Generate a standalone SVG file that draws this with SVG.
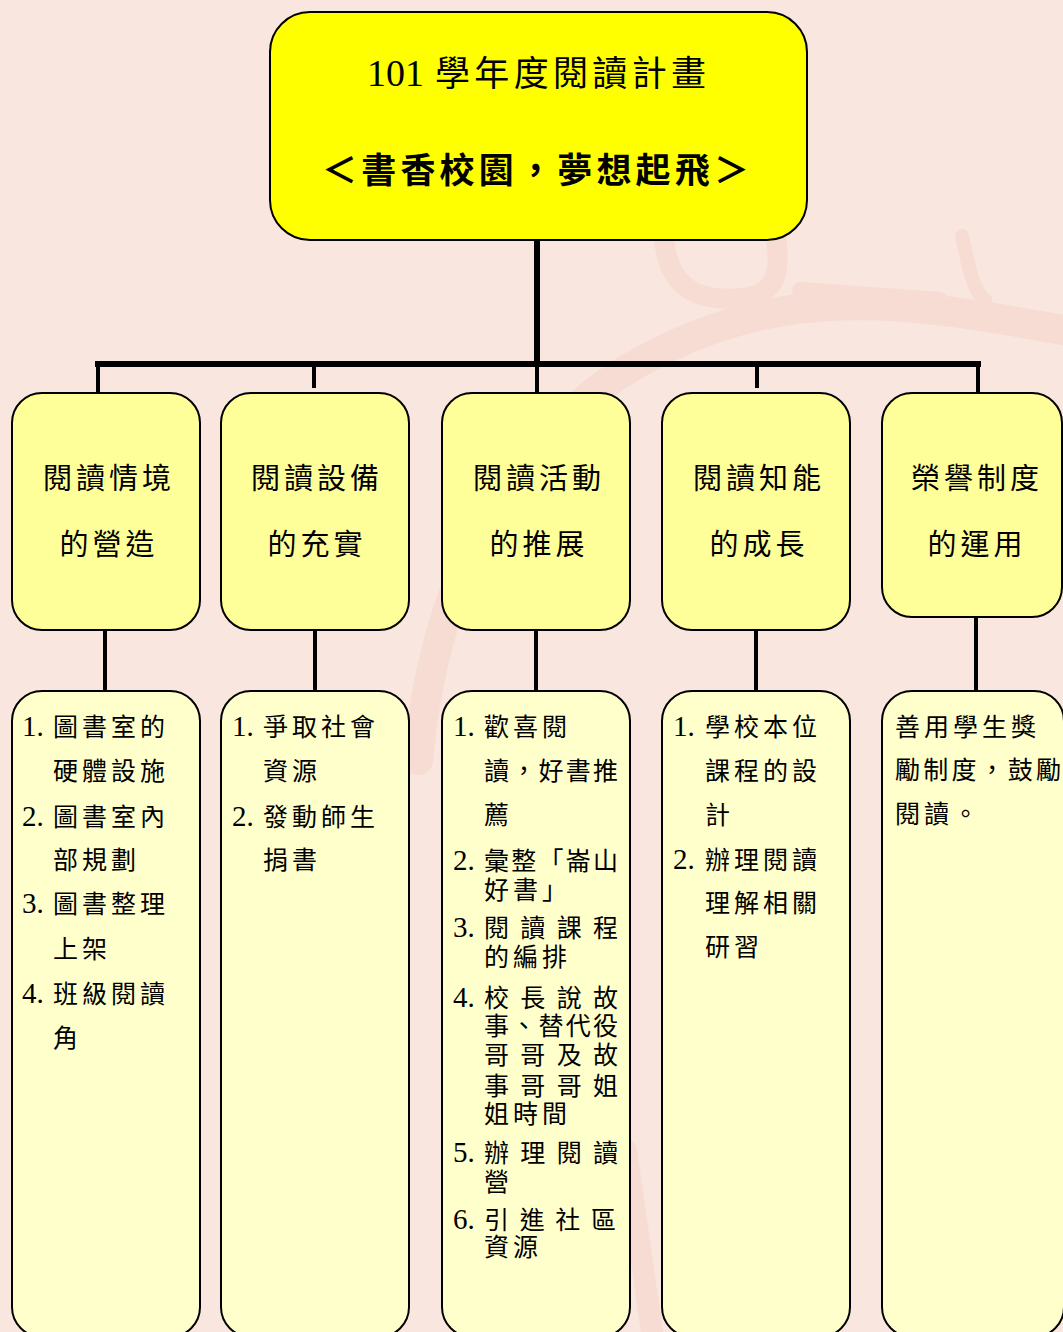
<svg xmlns="http://www.w3.org/2000/svg" width="1063" height="1332" viewBox="0 0 1063 1332">
<style>
.bg{fill:#F9E6DF}
.wm{fill:none;stroke:#F6DCD2;stroke-linecap:round}
.top{fill:#FFFF00;stroke:#000;stroke-width:2}
.mid{fill:#FFFF99;stroke:#000;stroke-width:2}
.low{fill:#FFFFCC;stroke:#000;stroke-width:2}
.ln{stroke:#000;fill:none}
text{font-family:"Noto Sans CJK TC","Noto Sans CJK SC",sans-serif;fill:#000}
.ttl{font-size:35px}
.mt{font-size:29px;letter-spacing:4px;text-anchor:middle}
.bt{font-size:25px;letter-spacing:4px}
.j{font-size:25px;letter-spacing:0}
.num{font-family:"Liberation Serif","Noto Sans CJK TC",serif;font-size:29px}
</style>
<rect class="bg" x="0" y="0" width="1063" height="1332"/>
<g id="watermark">
<path class="wm" stroke-width="30" d="M 418 760 C 432 600 500 440 640 362 S 900 300 1063 330"/>
<path class="wm" stroke-width="20" d="M 664 238 C 668 290 700 302 742 298 C 772 294 782 280 776 238"/>
<path class="wm" stroke-width="16" d="M 800 290 L 940 300"/>
<path class="wm" stroke-width="14" d="M 962 236 C 968 262 972 290 985 300"/>
<path class="wm" stroke-width="22" d="M 626 1150 L 652 1332"/>
</g>
<g id="connectors">
<line class="ln" stroke-width="6" x1="537" y1="240" x2="537" y2="367"/>
<line class="ln" stroke-width="6" x1="95" y1="364" x2="981" y2="364"/>
<line class="ln" stroke-width="4" x1="98" y1="364" x2="98" y2="393"/>
<line class="ln" stroke-width="4" x1="314" y1="364" x2="314" y2="388"/>
<line class="ln" stroke-width="4" x1="537" y1="364" x2="537" y2="393"/>
<line class="ln" stroke-width="4" x1="757" y1="364" x2="757" y2="388"/>
<line class="ln" stroke-width="4" x1="978" y1="364" x2="978" y2="393"/>
<line class="ln" stroke-width="4" x1="105" y1="630" x2="105" y2="691"/>
<line class="ln" stroke-width="4" x1="315" y1="630" x2="315" y2="691"/>
<line class="ln" stroke-width="4" x1="536" y1="630" x2="536" y2="691"/>
<line class="ln" stroke-width="4" x1="756" y1="630" x2="756" y2="691"/>
<line class="ln" stroke-width="4" x1="976" y1="617" x2="976" y2="691"/>
</g>
<g id="root">
<rect class="top" x="270" y="12" width="537" height="228" rx="40" ry="40"/>
<text class="ttl" x="367" y="86"><tspan class="num" style="font-size:38px">101</tspan></text>
<text class="ttl" x="435" y="86" textLength="271" lengthAdjust="spacing">學年度閱讀計畫</text>
<text class="ttl" x="322" y="183" font-weight="bold" textLength="427" lengthAdjust="spacing">＜書香校園，夢想起飛＞</text>
</g>
<g id="n1">
<rect class="mid" x="12" y="393" width="188" height="237" rx="30" ry="30"/>
<text class="mt" x="109" y="489">閱讀情境</text>
<text class="mt" x="109" y="555">的營造</text>
</g>
<g id="n2">
<rect class="mid" x="221" y="393" width="188" height="237" rx="30" ry="30"/>
<text class="mt" x="317" y="489">閱讀設備</text>
<text class="mt" x="317" y="555">的充實</text>
</g>
<g id="n3">
<rect class="mid" x="442" y="393" width="188" height="237" rx="30" ry="30"/>
<text class="mt" x="539" y="489">閱讀活動</text>
<text class="mt" x="539" y="555">的推展</text>
</g>
<g id="n4">
<rect class="mid" x="662" y="393" width="188" height="237" rx="30" ry="30"/>
<text class="mt" x="759" y="489">閱讀知能</text>
<text class="mt" x="759" y="555">的成長</text>
</g>
<g id="n5">
<rect class="mid" x="882" y="393" width="180" height="224" rx="30" ry="30"/>
<text class="mt" x="977" y="489">榮譽制度</text>
<text class="mt" x="977" y="555">的運用</text>
</g>
<g id="d1">
<rect class="low" x="12" y="691" width="188" height="646" rx="30" ry="30"/>
<text class="num" x="22" y="736">1.</text><text class="bt" x="53" y="736">圖書室的</text>
<text class="bt" x="53" y="780">硬體設施</text>
<text class="num" x="22" y="826">2.</text><text class="bt" x="53" y="826">圖書室內</text>
<text class="bt" x="53" y="869">部規劃</text>
<text class="num" x="22" y="913">3.</text><text class="bt" x="53" y="913">圖書整理</text>
<text class="bt" x="53" y="958">上架</text>
<text class="num" x="22" y="1003">4.</text><text class="bt" x="53" y="1003">班級閱讀</text>
<text class="bt" x="53" y="1047">角</text>
</g>
<g id="d2">
<rect class="low" x="221" y="691" width="188" height="646" rx="30" ry="30"/>
<text class="num" x="232" y="736">1.</text><text class="bt" x="263" y="736">爭取社會</text>
<text class="bt" x="263" y="780">資源</text>
<text class="num" x="232" y="826">2.</text><text class="bt" x="263" y="826">發動師生</text>
<text class="bt" x="263" y="869">捐書</text>
</g>
<g id="d3">
<rect class="low" x="442" y="691" width="188" height="646" rx="30" ry="30"/>
<text class="num" x="453" y="736">1.</text><text class="bt" x="484" y="736">歡喜閱</text>
<text class="j" x="484" y="780" textLength="134" lengthAdjust="spacing">讀，好書推</text>
<text class="bt" x="484" y="824">薦</text>
<text class="num" x="453" y="870">2.</text><text class="j" x="484" y="870" textLength="134" lengthAdjust="spacing">彙整「崙山</text>
<text class="bt" x="484" y="899">好書」</text>
<text class="num" x="453" y="937">3.</text><text class="j" x="484" y="937" textLength="134" lengthAdjust="spacing">閱讀課程</text>
<text class="bt" x="484" y="966">的編排</text>
<text class="num" x="453" y="1007">4.</text><text class="j" x="484" y="1007" textLength="134" lengthAdjust="spacing">校長說故</text>
<text class="j" x="484" y="1035" textLength="134" lengthAdjust="spacing">事、替代役</text>
<text class="j" x="484" y="1064" textLength="134" lengthAdjust="spacing">哥哥及故</text>
<text class="j" x="484" y="1095" textLength="134" lengthAdjust="spacing">事哥哥姐</text>
<text class="bt" x="484" y="1123">姐時間</text>
<text class="num" x="453" y="1162">5.</text><text class="j" x="484" y="1162" textLength="134" lengthAdjust="spacing">辦理閱讀</text>
<text class="bt" x="484" y="1191">營</text>
<text class="num" x="453" y="1229">6.</text><text class="j" x="484" y="1229" textLength="132" lengthAdjust="spacing">引進社區</text>
<text class="bt" x="484" y="1256">資源</text>
</g>
<g id="d4">
<rect class="low" x="662" y="691" width="188" height="646" rx="30" ry="30"/>
<text class="num" x="673" y="736">1.</text><text class="bt" x="705" y="736">學校本位</text>
<text class="bt" x="705" y="780">課程的設</text>
<text class="bt" x="705" y="824">計</text>
<text class="num" x="673" y="869">2.</text><text class="bt" x="705" y="869">辦理閱讀</text>
<text class="bt" x="705" y="912">理解相關</text>
<text class="bt" x="705" y="956">研習</text>
</g>
<g id="d5">
<rect class="low" x="882" y="691" width="182" height="646" rx="30" ry="30"/>
<text class="bt" x="895" y="736">善用學生獎</text>
<text class="j" x="895" y="779" textLength="166" lengthAdjust="spacing">勵制度，鼓勵</text>
<text class="bt" x="895" y="823">閱讀。</text>
</g>
</svg>
